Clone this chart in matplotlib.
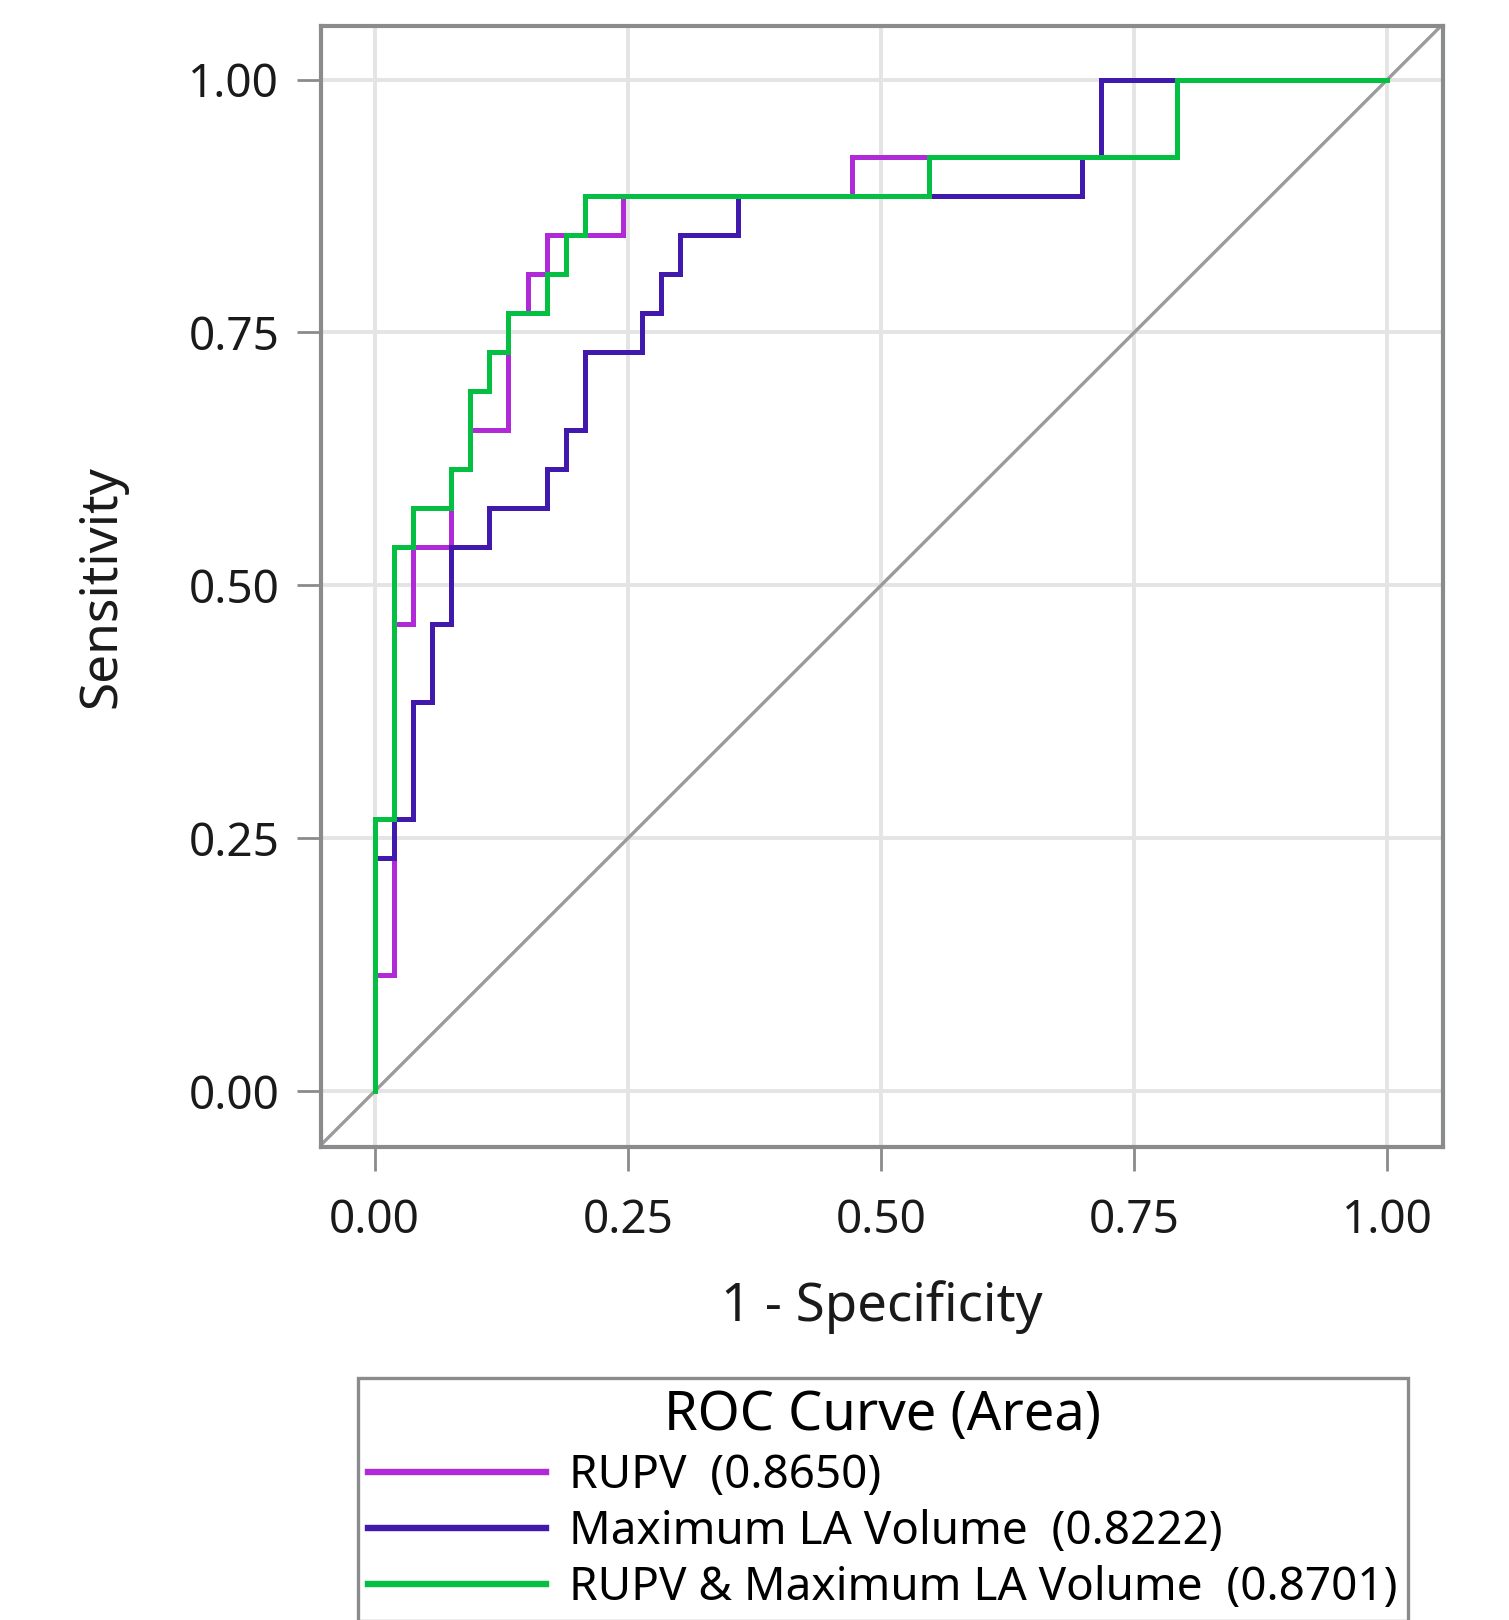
import matplotlib
matplotlib.use("Agg")
import matplotlib.pyplot as plt
import numpy as np

# ROC staircases as corner vertices, in counts: false positives (of 53), true positives (of 26)
N_NEG = 53
N_POS = 26

RUPV_FP = [0, 0, 1, 1, 2, 2, 4, 4, 5, 5, 7, 7, 8, 8, 9, 9, 13, 13, 25, 25, 42, 42, 53]
RUPV_TP = [0, 3, 3, 12, 12, 14, 14, 16, 16, 17, 17, 20, 20, 21, 21, 22, 22, 23, 23, 24, 24, 26, 26]

LAV_FP = [0, 0, 1, 1, 2, 2, 3, 3, 4, 4, 6, 6, 9, 9, 10, 10, 11, 11, 14, 14, 15, 15, 16, 16,
          19, 19, 37, 37, 38, 38, 53]
LAV_TP = [0, 6, 6, 7, 7, 10, 10, 12, 12, 14, 14, 15, 15, 16, 16, 17, 17, 19, 19, 20, 20, 21,
          21, 22, 22, 23, 23, 24, 24, 26, 26]

BOTH_FP = [0, 0, 1, 1, 2, 2, 4, 4, 5, 5, 6, 6, 7, 7, 9, 9, 10, 10, 11, 11, 29, 29, 42, 42, 53]
BOTH_TP = [0, 7, 7, 14, 14, 15, 15, 16, 16, 18, 18, 19, 19, 20, 20, 21, 21, 22, 22, 23, 23,
           24, 24, 26, 26]

LABELS = ["RUPV  (0.8650)", "Maximum LA Volume  (0.8222)", "RUPV & Maximum LA Volume  (0.8701)"]
COLORS = ["#b12ad8", "#4119ad", "#04bf42"]
TICKS = [0.0, 0.25, 0.5, 0.75, 1.0]

plt.rcParams["font.family"] = ["Noto Sans", "DejaVu Sans"]

fig = plt.figure(figsize=(15.09, 16.2), dpi=100)
ax = fig.add_axes([0.2127, 0.292, 0.7436, 0.692])

ax.set_xlim(-0.053, 1.055)
ax.set_ylim(-0.055, 1.053)
ax.set_xticks(TICKS)
ax.set_yticks(TICKS)
ax.set_xticklabels([f"{t:.2f}" for t in TICKS])
ax.set_yticklabels([f"{t:.2f}" for t in TICKS])
ax.grid(True, color="#e4e4e4", lw=2.8)
ax.set_axisbelow(True)

ax.axline((0, 0), (1, 1), color="#9b9b9b", lw=2.4, zorder=2)

curves = [(RUPV_FP, RUPV_TP), (LAV_FP, LAV_TP), (BOTH_FP, BOTH_TP)]
for (fp, tp), lab, c in zip(curves, LABELS, COLORS):
    ax.plot(np.array(fp) / N_NEG, np.array(tp) / N_POS, color=c, lw=3.6,
            solid_joinstyle="miter", label=lab, zorder=3)

for s in ax.spines.values():
    s.set_color("#898b8d")
    s.set_linewidth(3)
ax.tick_params(axis="both", length=17, width=2, color="#898b8d",
               labelsize=33, labelcolor="#1a1a1a")
ax.tick_params(axis="x", pad=20)
ax.tick_params(axis="y", pad=13)

ax.set_xlabel("1 - Specificity", fontsize=38, color="#1a1a1a", labelpad=26)
ax.set_ylabel("Sensitivity", fontsize=37, color="#1a1a1a", labelpad=44)

leg = fig.legend(loc="upper center", bbox_to_anchor=(0.585, 0.1495),
                 title="ROC Curve (Area)", fontsize=33, title_fontsize=39,
                 handlelength=3.9, handletextpad=0.5, labelspacing=0.22,
                 borderpad=0.22, borderaxespad=0, fancybox=False,
                 edgecolor="#898b8d", framealpha=1)
leg.get_frame().set_linewidth(2.4)
for h in leg.get_lines():
    h.set_linewidth(4.6)

fig.savefig("out.png", dpi=100)
